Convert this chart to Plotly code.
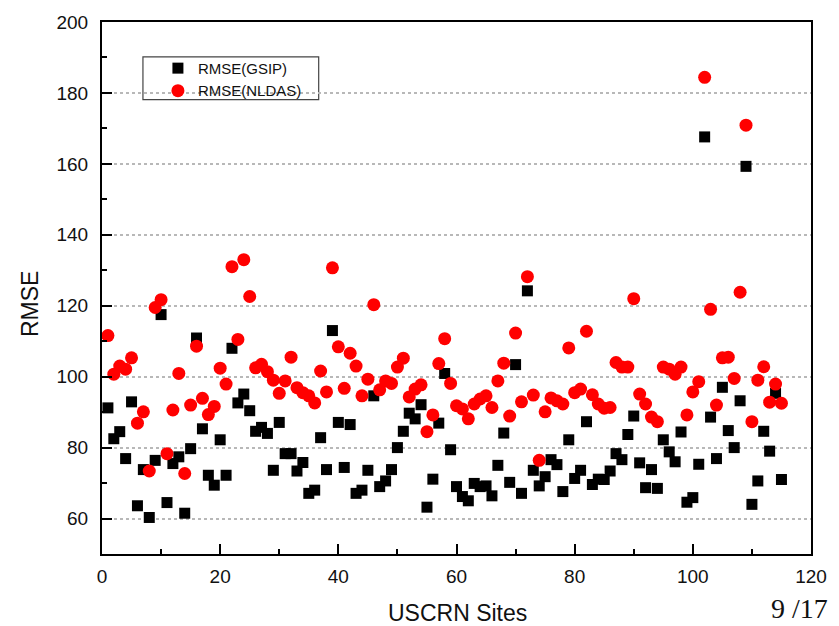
import plotly.graph_objects as go

sites = list(range(1, 116))

rmse_gsip = [
    91.2, 82.5, 84.5, 76.9, 92.9, 63.6, 73.8, 60.3, 76.4, 117.5,
    64.5, 75.5, 77.4, 61.5, 79.7, 110.9, 85.3, 72.2, 69.4, 82.2,
    72.2, 108.0, 92.6, 95.1, 90.4, 84.6, 85.7, 84.0, 73.6, 87.1,
    78.3, 78.3, 73.4, 75.8, 67.1, 68.0, 82.8, 73.8, 113.0, 87.1,
    74.4, 86.5, 67.1, 68.0, 73.6, 94.6, 69.0, 70.6, 73.8, 80.0,
    84.6, 89.7, 88.1, 92.1, 63.2, 71.1, 86.9, 100.9, 79.4, 69.0,
    66.2, 65.0, 69.9, 69.0, 69.2, 66.4, 75.0, 84.1, 70.2, 103.4,
    67.1, 124.2, 73.6, 69.2, 71.8, 76.6, 75.2, 67.6, 82.2, 71.3,
    73.6, 87.3, 69.6, 71.1, 71.0, 73.4, 78.3, 76.6, 83.7, 88.9,
    75.7, 68.7, 73.8, 68.5, 82.2, 78.8, 76.0, 84.4, 64.6, 65.9,
    75.3, 167.6, 88.6, 76.9, 97.0, 84.8, 80.0, 93.2, 159.3, 64.0,
    70.6, 84.6, 79.0, 95.3, 71.0,
]

rmse_nldas = [
    111.6, 100.7, 103.0, 102.1, 105.3, 86.9, 90.1, 73.4, 119.5, 121.7,
    78.3, 90.6, 100.9, 72.7, 92.0, 108.6, 93.9, 89.3, 91.6, 102.4,
    97.9, 131.0, 110.5, 133.0, 122.6, 102.5, 103.5, 101.4, 99.0, 95.3,
    98.8, 105.5, 96.9, 95.5, 94.6, 92.6, 101.6, 95.7, 130.7, 108.4,
    96.7, 106.6, 103.0, 94.6, 99.3, 120.3, 96.3, 98.8, 98.1, 102.7,
    105.2, 94.3, 96.5, 97.7, 84.5, 89.2, 103.7, 110.7, 98.1, 91.8,
    90.9, 88.1, 92.3, 93.7, 94.6, 91.3, 98.8, 103.8, 88.9, 112.3,
    92.9, 128.2, 94.8, 76.4, 90.1, 94.0, 93.2, 92.3, 108.1, 95.5,
    96.5, 112.8, 94.9, 92.3, 91.1, 91.3, 104.0, 102.7, 102.7, 122.0,
    95.1, 92.3, 88.6, 87.3, 102.7, 102.1, 100.7, 102.7, 89.2, 95.7,
    98.6, 184.4, 119.0, 92.0, 105.3, 105.5, 99.5, 123.8, 170.9, 87.3,
    99.0, 102.8, 92.8, 97.9, 92.5,
]

x_ticks = [0, 20, 40, 60, 80, 100, 120]
y_ticks = [60, 80, 100, 120, 140, 160, 180, 200]

FONT = "Liberation Sans, Arial, sans-serif"

fig = go.Figure()
fig.add_trace(go.Scatter(
    x=sites, y=rmse_gsip, mode="markers", name="RMSE(GSIP)",
    marker=dict(symbol="square", size=11, color="black", line=dict(width=0)),
))
fig.add_trace(go.Scatter(
    x=sites, y=rmse_nldas, mode="markers", name="RMSE(NLDAS)",
    marker=dict(symbol="circle", size=13, color="#ff0000", line=dict(width=0)),
))

W, H = 839, 626
L, R, T, B = 102, 27, 20, 72
pw, ph = W - L - R, H - T - B

def px_x(X):
    return (X - L) / pw

def px_y(Y):
    return (H - B - Y) / ph

fig.update_layout(
    width=W, height=H,
    margin=dict(l=L, r=R, t=T, b=B),
    paper_bgcolor="white", plot_bgcolor="white",
    showlegend=True,
    legend=dict(
        x=px_x(158), y=px_y(50), xanchor="left", yanchor="top",
        bgcolor="rgba(0,0,0,0)", borderwidth=0,
        font=dict(family=FONT, size=15, color="#111"),
        tracegroupgap=0,
    ),
    shapes=[dict(
        type="rect", xref="paper", yref="paper",
        x0=px_x(143), x1=px_x(319), y0=px_y(98), y1=px_y(55),
        line=dict(color="#444", width=1.2), fillcolor="white", layer="below",
    )],
    annotations=[
        dict(text="RMSE", xref="paper", yref="paper", x=px_x(30), y=px_y(303),
             xanchor="center", yanchor="middle", textangle=-90, showarrow=False,
             font=dict(family=FONT, size=23, color="#111")),
        dict(text="USCRN Sites", xref="paper", yref="paper", x=px_x(458), y=px_y(613),
             xanchor="center", yanchor="middle", showarrow=False,
             font=dict(family=FONT, size=23, color="#111")),
        dict(text="9 /17", xref="paper", yref="paper", x=px_x(770), y=px_y(626),
             xanchor="left", yanchor="bottom", showarrow=False,
             font=dict(family="Liberation Serif, Times New Roman, serif", size=28, color="#111")),
    ],
)

fig.update_xaxes(
    range=[0, 120], tickvals=x_ticks, ticktext=[str(v) for v in x_ticks],
    ticks="inside", ticklen=10, tickwidth=2, tickcolor="black",
    minor=dict(ticks="inside", ticklen=5, tickwidth=2, tickcolor="black", dtick=10, tick0=0),
    showline=True, linecolor="black", linewidth=2, mirror=True,
    showgrid=False, zeroline=False,
    tickfont=dict(family=FONT, size=19, color="#111"),
    ticklabelstandoff=4,
)
fig.update_yaxes(
    range=[50, 200], tickvals=y_ticks, ticktext=[str(v) for v in y_ticks],
    ticks="inside", ticklen=10, tickwidth=2, tickcolor="black",
    minor=dict(ticks="inside", ticklen=5, tickwidth=2, tickcolor="black", dtick=10, tick0=50),
    showline=True, linecolor="black", linewidth=2, mirror=True,
    showgrid=True, gridcolor="#b8b8b8", gridwidth=1.5, griddash="dot",
    zeroline=False,
    tickfont=dict(family=FONT, size=19, color="#111"),
    ticklabelstandoff=8,
)

fig.write_html("out.html", config={"displayModeBar": False},
               post_script="document.body.style.margin='0';")
